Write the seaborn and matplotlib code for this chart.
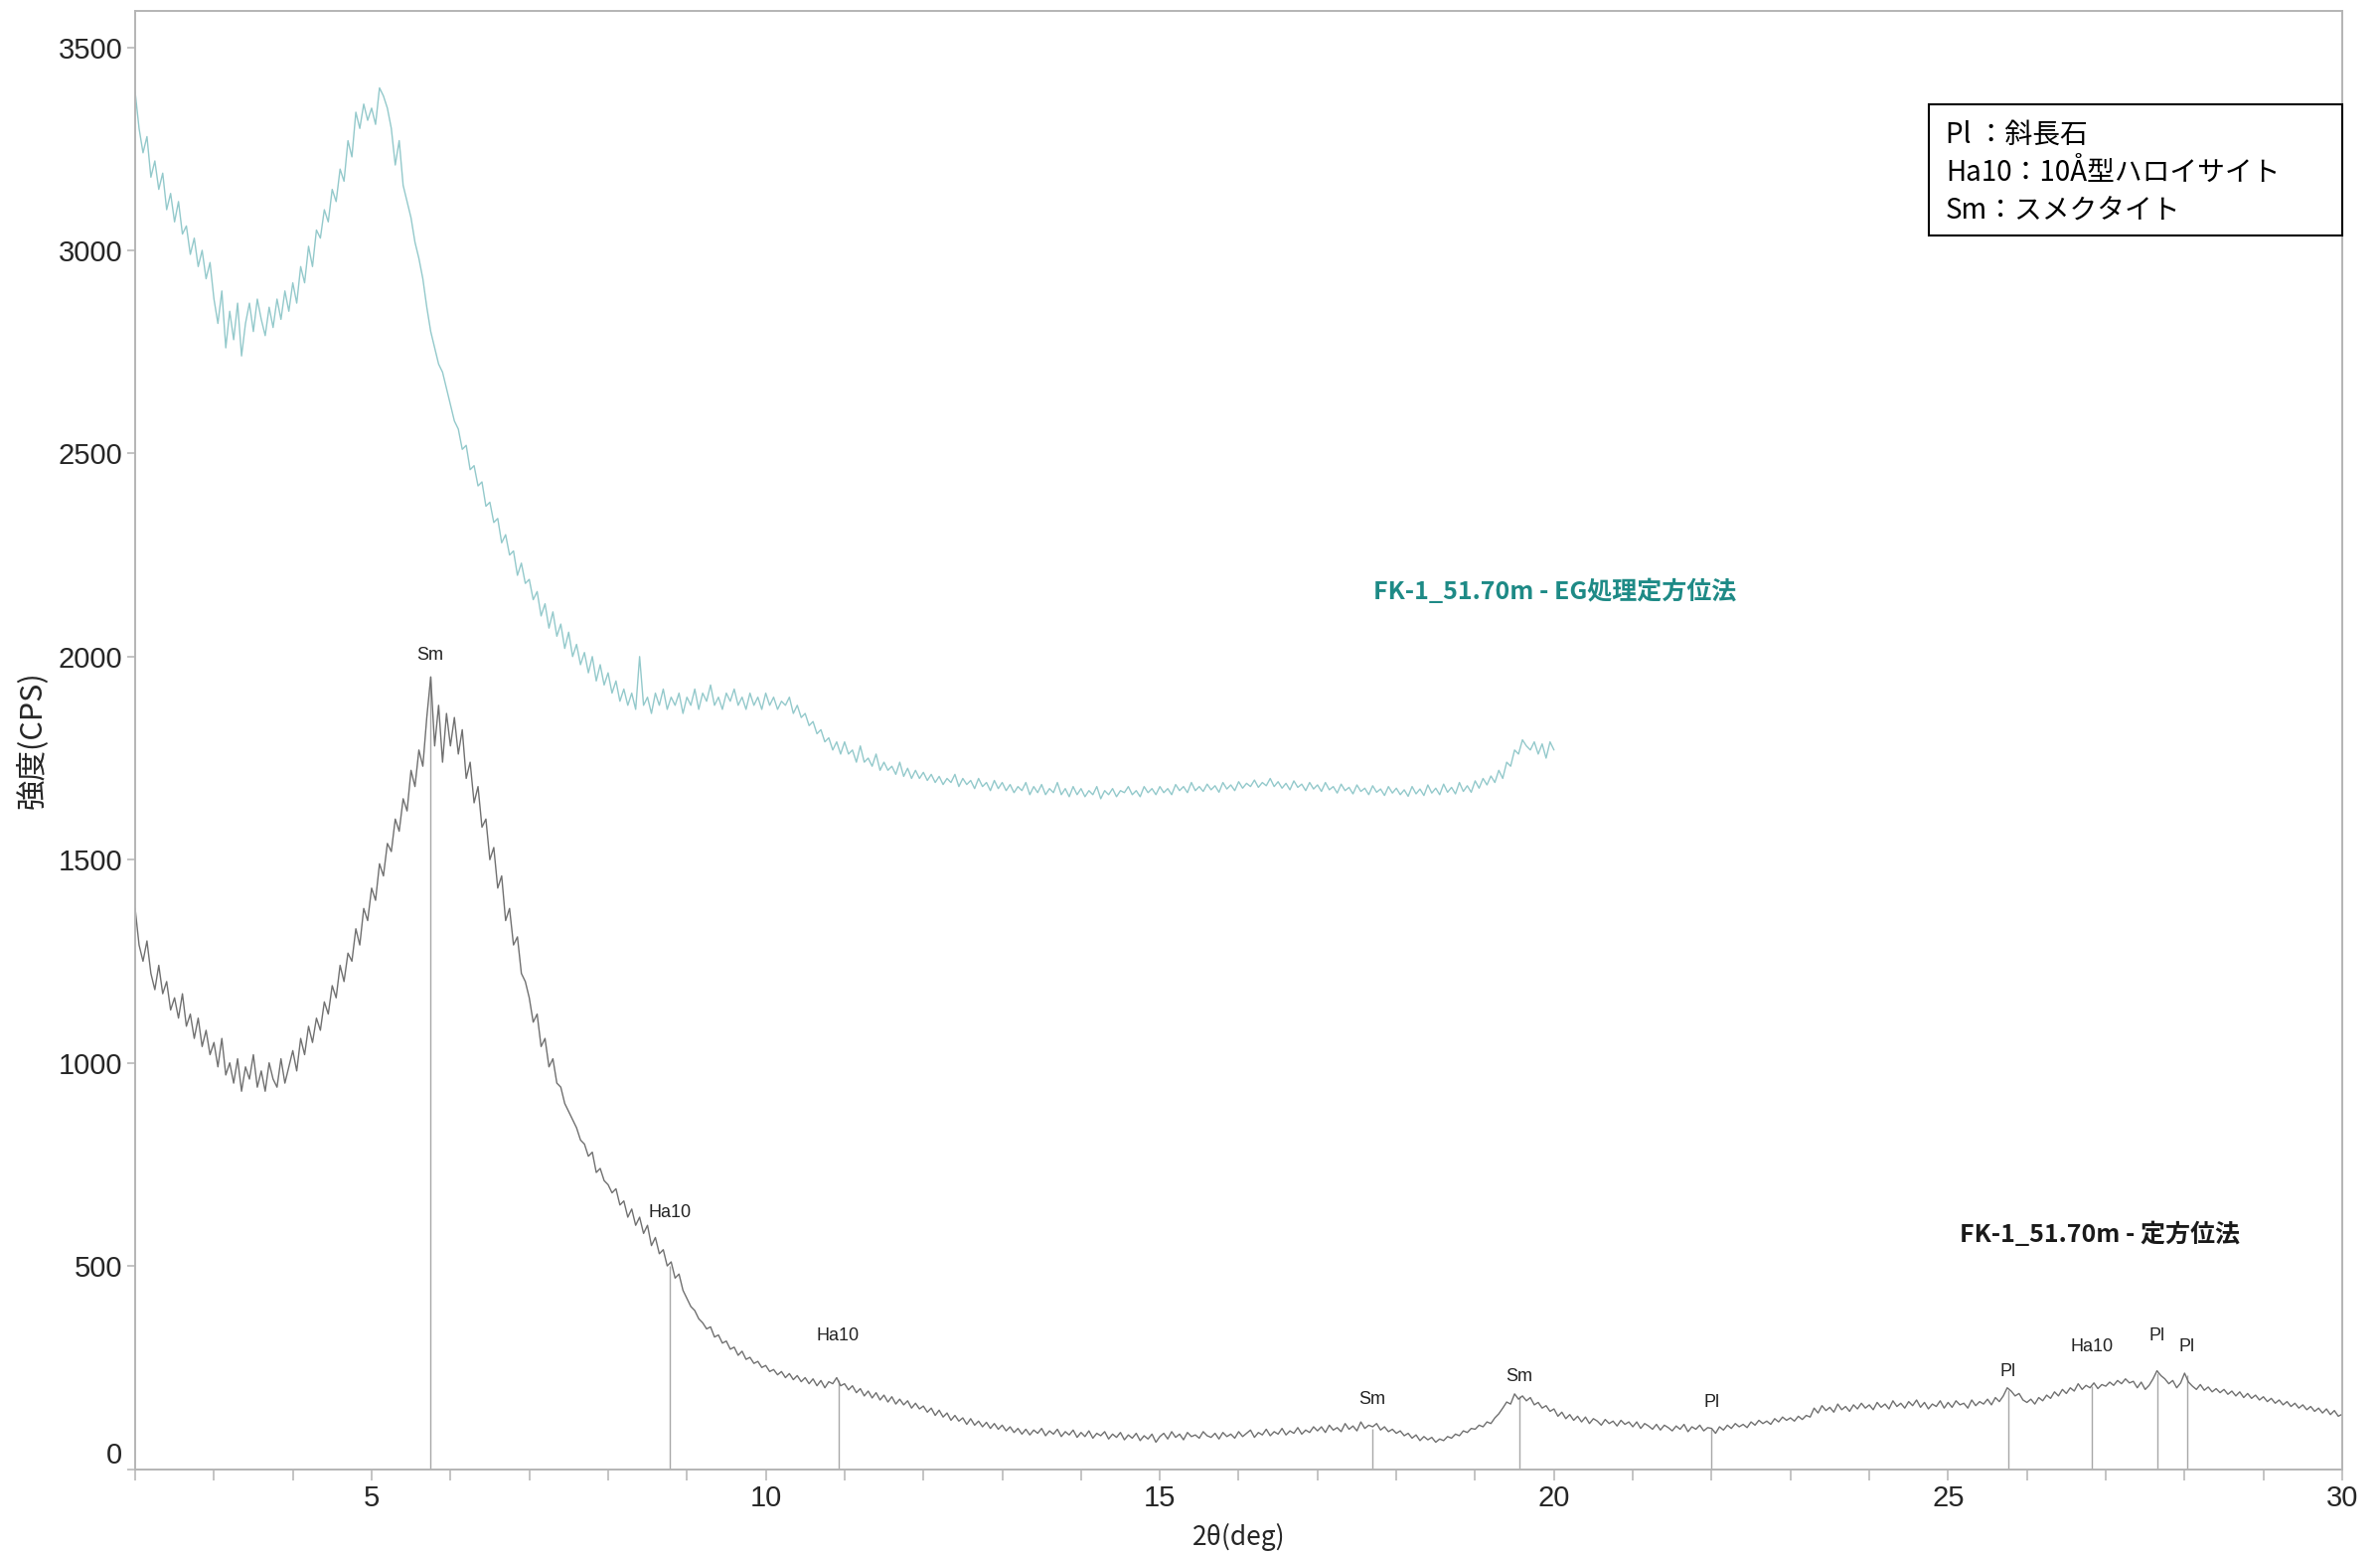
import numpy as np
import pandas as pd
import matplotlib
matplotlib.use("Agg")
import matplotlib.pyplot as plt
import seaborn as sns
from matplotlib import font_manager
from matplotlib.ticker import MultipleLocator, FixedLocator
from matplotlib.patches import Rectangle

# ---------------- data ----------------
two_theta_start = 2.0
two_theta_step = 0.05

# FK-1_51.70m - 定方位法 (2.00 .. 30.00 deg, step 0.05)
cps_oriented = [
    1380, 1290, 1250, 1300, 1220, 1180, 1240, 1170, 1200, 1130, 1160, 1110, 1170, 1090, 1120, 1060, 1110, 1040, 1080, 1020,
    1050, 990, 1060, 970, 1000, 950, 1010, 930, 990, 960, 1020, 940, 980, 930, 1000, 960, 940, 1010, 950, 990,
    1030, 980, 1060, 1020, 1090, 1050, 1110, 1080, 1150, 1120, 1190, 1160, 1240, 1200, 1270, 1250, 1330, 1290, 1380, 1350,
    1430, 1400, 1490, 1460, 1540, 1520, 1600, 1570, 1650, 1620, 1720, 1680, 1770, 1730, 1850, 1950, 1780, 1880, 1740, 1860,
    1780, 1850, 1760, 1820, 1700, 1740, 1640, 1680, 1580, 1600, 1500, 1530, 1430, 1460, 1350, 1380, 1290, 1310, 1220, 1200,
    1160, 1100, 1120, 1040, 1060, 990, 1010, 950, 940, 900, 880, 860, 840, 810, 800, 770, 780, 730, 740, 710,
    700, 680, 690, 650, 660, 620, 640, 600, 620, 580, 600, 550, 570, 530, 540, 500, 510, 470, 480, 440,
    420, 400, 390, 370, 360, 345, 350, 325, 330, 310, 315, 295, 300, 280, 290, 270, 275, 260, 265, 250,
    255, 240, 245, 232, 240, 225, 235, 220, 230, 215, 225, 210, 222, 205, 218, 200, 215, 210, 225, 205,
    210, 195, 205, 188, 198, 180, 192, 175, 188, 170, 182, 165, 178, 160, 172, 158, 168, 150, 162, 148,
    155, 140, 150, 132, 145, 128, 138, 120, 132, 118, 126, 110, 124, 108, 118, 104, 115, 100, 112, 98,
    108, 94, 104, 90, 100, 86, 98, 84, 96, 88, 100, 82, 94, 86, 98, 80, 92, 84, 96, 78,
    90, 80, 94, 76, 88, 82, 92, 74, 86, 78, 90, 72, 84, 76, 88, 70, 82, 74, 86, 66,
    80, 88, 74, 92, 78, 86, 72, 90, 80, 84, 76, 92, 82, 78, 88, 74, 90, 80, 86, 76,
    92, 80, 88, 96, 78, 90, 84, 98, 82, 92, 86, 100, 84, 94, 88, 102, 86, 96, 90, 104,
    94, 104, 90, 108, 96, 102, 92, 112, 98, 106, 94, 116, 100, 108, 104, 112, 96, 104, 92, 98,
    88, 94, 82, 88, 76, 84, 70, 80, 72, 78, 66, 74, 70, 80, 76, 86, 82, 94, 90, 100,
    98, 108, 104, 116, 112, 126, 136, 150, 165, 160, 185, 172, 180, 168, 176, 158, 164, 150, 156, 142,
    148, 130, 140, 124, 134, 120, 130, 116, 128, 112, 124, 118, 108, 122, 112, 118, 106, 120, 110, 116,
    104, 116, 100, 112, 106, 98, 110, 96, 108, 102, 94, 106, 98, 110, 92, 104, 98, 108, 94, 102,
    100, 88, 104, 96, 108, 100, 112, 104, 110, 102, 116, 108, 120, 112, 118, 110, 124, 116, 128, 120,
    126, 118, 130, 122, 132, 128, 150, 138, 156, 144, 152, 140, 160, 146, 154, 142, 158, 148, 162, 150,
    158, 146, 164, 152, 160, 148, 168, 154, 162, 150, 166, 156, 170, 152, 164, 148, 160, 154, 168, 150,
    164, 152, 168, 158, 162, 150, 170, 156, 166, 160, 172, 158, 176, 166, 180, 200, 192, 180, 186, 170,
    164, 172, 160, 176, 168, 182, 174, 190, 180, 196, 186, 200, 192, 210, 196, 206, 200, 212, 198, 208,
    204, 214, 206, 218, 210, 222, 212, 216, 200, 214, 196, 206, 222, 242, 230, 222, 210, 218, 200, 212,
    236, 214, 204, 196, 208, 194, 202, 190, 198, 188, 196, 184, 192, 180, 190, 176, 186, 174, 182, 170,
    178, 166, 174, 162, 170, 158, 166, 154, 162, 150, 158, 146, 154, 142, 150, 138, 148, 134, 144, 130,
    135,
]

# FK-1_51.70m - EG処理定方位法 (2.00 .. 20.00 deg, step 0.05)
cps_eg = [
    3390, 3300, 3240, 3280, 3180, 3220, 3150, 3190, 3100, 3140, 3070, 3120, 3040, 3060, 2990, 3030, 2960, 3000, 2930, 2970,
    2880, 2820, 2900, 2760, 2850, 2780, 2870, 2740, 2820, 2870, 2800, 2880, 2830, 2790, 2860, 2810, 2880, 2830, 2900, 2850,
    2920, 2870, 2960, 2920, 3010, 2960, 3050, 3030, 3100, 3070, 3150, 3120, 3200, 3170, 3270, 3230, 3340, 3300, 3360, 3320,
    3350, 3310, 3400, 3380, 3350, 3300, 3210, 3270, 3160, 3120, 3080, 3020, 2980, 2930, 2860, 2800, 2760, 2720, 2700, 2660,
    2620, 2580, 2560, 2510, 2520, 2460, 2470, 2420, 2430, 2370, 2380, 2330, 2340, 2280, 2300, 2250, 2260, 2200, 2230, 2180,
    2190, 2140, 2160, 2100, 2130, 2070, 2110, 2050, 2080, 2020, 2060, 2000, 2030, 1980, 2010, 1960, 2000, 1940, 1980, 1930,
    1960, 1910, 1940, 1890, 1920, 1880, 1910, 1870, 2000, 1880, 1900, 1860, 1910, 1880, 1920, 1870, 1900, 1880, 1910, 1860,
    1900, 1880, 1920, 1870, 1910, 1890, 1930, 1880, 1900, 1870, 1910, 1890, 1920, 1880, 1900, 1870, 1910, 1880, 1900, 1870,
    1910, 1880, 1900, 1870, 1890, 1880, 1900, 1860, 1880, 1850, 1860, 1830, 1840, 1810, 1820, 1790, 1800, 1770, 1790, 1760,
    1790, 1760, 1770, 1740, 1780, 1740, 1750, 1730, 1760, 1720, 1740, 1720, 1730, 1710, 1740, 1705, 1725, 1700, 1720, 1700,
    1715, 1695, 1710, 1690, 1705, 1685, 1700, 1690, 1710, 1680, 1700, 1685, 1695, 1675, 1700, 1680, 1690, 1670, 1695, 1675,
    1690, 1670, 1685, 1665, 1680, 1670, 1690, 1660, 1680, 1665, 1685, 1660, 1675, 1665, 1690, 1660, 1675, 1655, 1680, 1660,
    1675, 1655, 1670, 1660, 1680, 1650, 1670, 1660, 1675, 1655, 1670, 1665, 1680, 1660, 1670, 1655, 1680, 1665, 1675, 1660,
    1680, 1665, 1675, 1660, 1685, 1670, 1680, 1665, 1690, 1670, 1680, 1668, 1686, 1672, 1682, 1666, 1690, 1674, 1684, 1670,
    1692, 1676, 1688, 1680, 1696, 1678, 1690, 1682, 1700, 1680, 1692, 1676, 1688, 1672, 1694, 1678, 1686, 1670, 1690, 1674,
    1684, 1668, 1690, 1672, 1680, 1664, 1686, 1670, 1678, 1662, 1684, 1668, 1676, 1660, 1682, 1666, 1674, 1658, 1680, 1664,
    1676, 1660, 1672, 1656, 1680, 1662, 1674, 1658, 1684, 1664, 1676, 1660, 1686, 1666, 1678, 1662, 1690, 1668, 1682, 1666,
    1694, 1676, 1700, 1684, 1706, 1690, 1720, 1700, 1740, 1730, 1770, 1760, 1795, 1780, 1770, 1790, 1760, 1785, 1750, 1790,
    1770,
]

series_names = ["FK-1_51.70m - 定方位法", "FK-1_51.70m - EG処理定方位法"]

# identified peaks
peak_pos = [5.74, 8.78, 10.92, 17.69, 19.56, 22.0, 25.76, 26.82, 27.65, 28.03]
peak_labels = ["Sm", "Ha10", "Ha10", "Sm", "Sm", "Pl", "Pl", "Ha10", "Pl", "Pl"]
peak_top = [1950, 500, 220, 100, 180, 100, 195, 205, 235, 230]
peak_label_cps = [2004, 630, 328, 172, 228, 164, 239, 302, 328, 302]

legend_lines = ["Pl ：斜長石", "Ha10：10Å型ハロイサイト", "Sm：スメクタイト"]

# ---------------- style ----------------
sns.set_style("white")
names = {f.name for f in font_manager.fontManager.ttflist}
jp = "Noto Sans CJK JP"
latin = "Liberation Sans" if "Liberation Sans" in names else "DejaVu Sans"
narrow = "Liberation Sans Narrow" if "Liberation Sans Narrow" in names else latin
plt.rcParams["font.family"] = [latin, jp, "DejaVu Sans"]

frame_col = "#b4b4b4"
trace_col = "#707070"
eg_col = "#93c9cb"
eg_text = "#1e8a86"

x_or = np.round(two_theta_start + two_theta_step * np.arange(len(cps_oriented)), 3)
x_eg = np.round(two_theta_start + two_theta_step * np.arange(len(cps_eg)), 3)
df = pd.concat([
    pd.DataFrame({"2theta": x_or, "cps": cps_oriented, "sample": series_names[0]}),
    pd.DataFrame({"2theta": x_eg, "cps": cps_eg, "sample": series_names[1]}),
], ignore_index=True)

fig = plt.figure(figsize=(23.95, 15.63), dpi=100)
ax = fig.add_axes([0.05678, 0.05406, 0.92735, 0.93909])

# peak reference lines
ax.vlines(peak_pos, 0, peak_top, colors="#a8a8a8", linewidth=1.0, zorder=1)

sns.lineplot(data=df, x="2theta", y="cps", hue="sample",
             palette={series_names[0]: trace_col, series_names[1]: eg_col},
             estimator=None, sort=False, legend=False, linewidth=1.0, ax=ax, zorder=2)

for xp, lab, yl in zip(peak_pos, peak_labels, peak_label_cps):
    ax.text(xp, yl, lab, ha="center", va="center", fontsize=13,
            family=[narrow, "DejaVu Sans"], color="#222222")

ax.set_xlim(2, 30)
ax.set_ylim(0, 3590)
ax.xaxis.set_major_locator(MultipleLocator(5))
ax.xaxis.set_minor_locator(MultipleLocator(1))
ax.yaxis.set_major_locator(FixedLocator([0, 500, 1000, 1500, 2000, 2500, 3000, 3500]))

for s in ax.spines.values():
    s.set_color(frame_col)
    s.set_linewidth(1.4)

ax.tick_params(axis="x", which="both", direction="out", length=8, width=1.1,
               color=frame_col, labelsize=21, pad=3, bottom=True)
ax.tick_params(axis="y", which="major", direction="out", length=6, width=1.1,
               color=frame_col, labelsize=21, pad=3, left=True)
for lab in ax.get_xticklabels() + ax.get_yticklabels():
    lab.set_family([latin, "DejaVu Sans"])

ax.set_xlabel("2θ(deg)", fontsize=19, family=[jp, "DejaVu Sans"], labelpad=8)
ax.set_ylabel("強度(CPS)", fontsize=22, family=[jp, "DejaVu Sans"], labelpad=7)

# series labels
ax.text(17.71, 2160, series_names[1], color=eg_text, fontsize=18, fontweight="bold",
        family=[jp, "DejaVu Sans"], ha="left", va="center")
ax.text(25.15, 578, series_names[0], color="#1a1a1a", fontsize=18, fontweight="bold",
        family=[jp, "DejaVu Sans"], ha="left", va="center")

# legend box of abbreviations
ax.add_patch(Rectangle((0.8127, 0.8458), 0.1873, 0.0900, transform=ax.transAxes,
                       facecolor="white", edgecolor="black", linewidth=1.5, zorder=5,
                       clip_on=False))
for i, line in enumerate(legend_lines):
    ax.text(0.8204, 0.9146 - i * 0.0259, line, transform=ax.transAxes, fontsize=20,
            family=[jp, "DejaVu Sans"], ha="left", va="center", zorder=6, color="black")

fig.canvas.draw()
ylabels = ax.yaxis.get_majorticklabels()
if ylabels:
    ylabels[0].set_verticalalignment("bottom")

fig.savefig("out.png", dpi=100, facecolor="white")
